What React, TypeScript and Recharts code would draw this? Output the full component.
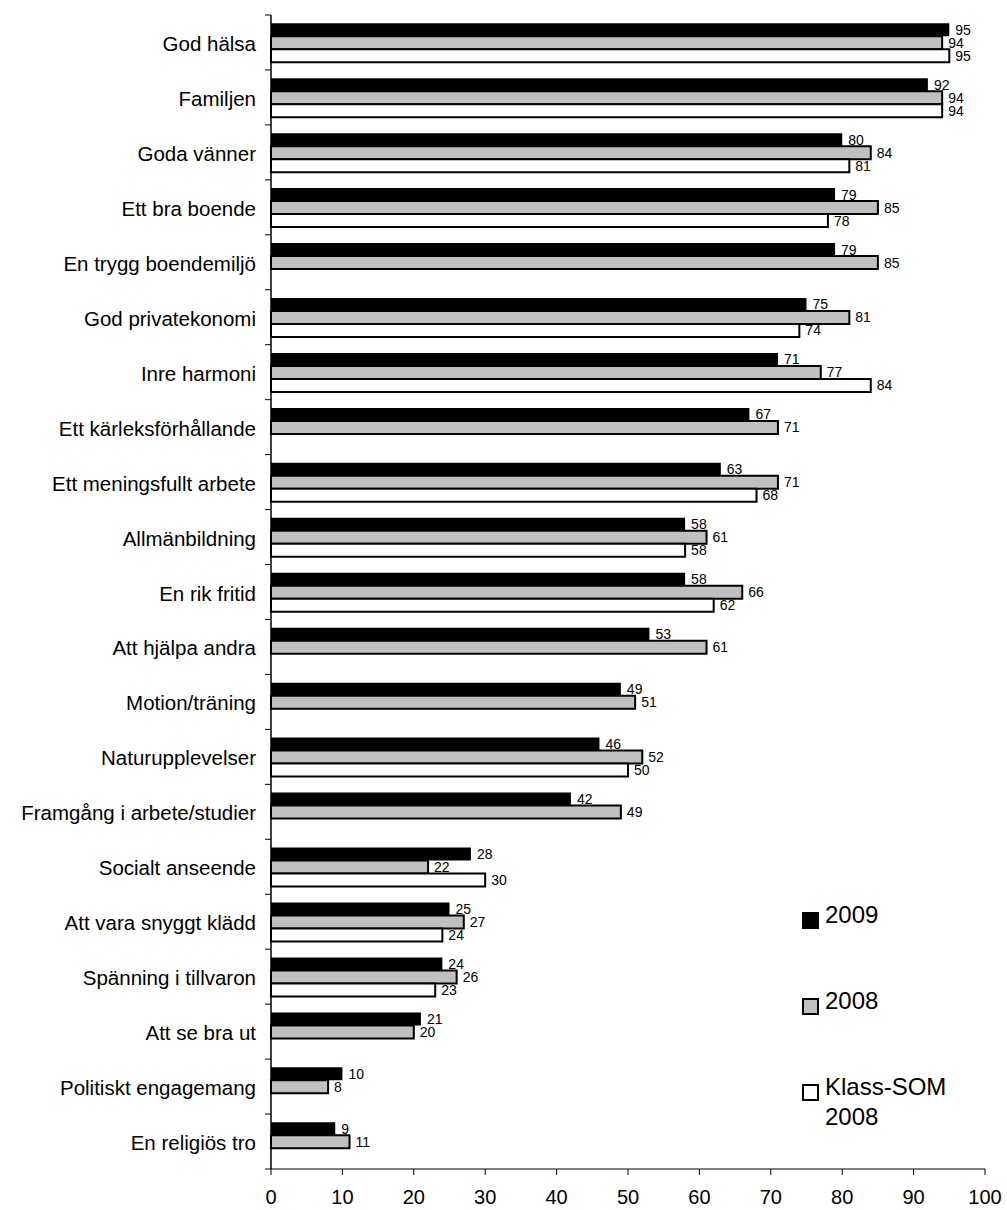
import { BarChart, Bar, XAxis, YAxis, LabelList } from 'recharts';

const categories = [
  'God hälsa',
  'Familjen',
  'Goda vänner',
  'Ett bra boende',
  'En trygg boendemiljö',
  'God privatekonomi',
  'Inre harmoni',
  'Ett kärleksförhållande',
  'Ett meningsfullt arbete',
  'Allmänbildning',
  'En rik fritid',
  'Att hjälpa andra',
  'Motion/träning',
  'Naturupplevelser',
  'Framgång i arbete/studier',
  'Socialt anseende',
  'Att vara snyggt klädd',
  'Spänning i tillvaron',
  'Att se bra ut',
  'Politiskt engagemang',
  'En religiös tro',
];

const values2009 = [95, 92, 80, 79, 79, 75, 71, 67, 63, 58, 58, 53, 49, 46, 42, 28, 25, 24, 21, 10, 9];
const values2008 = [94, 94, 84, 85, 85, 81, 77, 71, 71, 61, 66, 61, 51, 52, 49, 22, 27, 26, 20, 8, 11];
const valuesKlass = [95, 94, 81, 78, null, 74, 84, null, 68, 58, 62, null, null, 50, null, 30, 24, 23, null, null, null];

const xTicks = [0, 10, 20, 30, 40, 50, 60, 70, 80, 90, 100];

const data = categories.map((name, i) => ({
  name,
  y2009: values2009[i],
  y2008: values2008[i],
  klass: valuesKlass[i],
}));

const FONT = '"Liberation Sans", Arial, sans-serif';
const W = 1007;
const H = 1210;
const Y_AXIS_W = 271;
const TOP = 15;
const PLOT_BOTTOM = 1169;
const X_AXIS_H = H - PLOT_BOTTOM;
const BAND = (PLOT_BOTTOM - TOP) / categories.length;

// Excel-style ticks sit between categories, not on them
function CategoryTick(props: any) {
  const { x, y, payload, index } = props;
  const lx = x + 10;
  return (
    <g>
      <text x={x + 1} y={y + 1} textAnchor="end" dominantBaseline="central" fontSize={20.5} fontFamily={FONT} fill="#000">
        {payload.value}
      </text>
      <line x1={lx} x2={lx + 6} y1={y - BAND / 2} y2={y - BAND / 2} stroke="#000" />
      {index === categories.length - 1 && (
        <line x1={lx} x2={lx + 6} y1={y + BAND / 2} y2={y + BAND / 2} stroke="#000" />
      )}
    </g>
  );
}

function Swatch({ fill, border }: { fill: string; border: boolean }) {
  return (
    <span
      style={{
        display: 'inline-block',
        boxSizing: 'border-box',
        width: 17,
        height: 17,
        background: fill,
        border: border ? '2px solid #000' : 'none',
        marginRight: 6,
      }}
    />
  );
}

const legendItems = [
  { label: '2009', fill: '#000', border: false },
  { label: '2008', fill: '#c0c0c0', border: true },
  { label: 'Klass-SOM', sub: '2008', fill: '#fff', border: true },
];

function LegendBox() {
  return (
    <div style={{ position: 'absolute', left: 802, top: 900, fontFamily: FONT, color: '#000' }}>
      {legendItems.map((it) => (
        <div key={it.label} style={{ height: 86, display: 'flex', alignItems: 'flex-start', fontSize: 24, lineHeight: '30px' }}>
          <span style={{ marginTop: 6 }}>
            <Swatch fill={it.fill} border={it.border} />
          </span>
          <span>
            {it.label}
            {it.sub && <br />}
            {it.sub}
          </span>
        </div>
      ))}
    </div>
  );
}

export default function App() {
  const labelStyle = { fontSize: 14, fontFamily: FONT, fill: '#000' };
  return (
    <div style={{ position: 'relative', width: W, height: H, background: '#fff' }}>
      <style>{'body { margin: 0; } svg.recharts-surface { overflow: visible; }'}</style>
      <BarChart
        width={W}
        height={H}
        data={data}
        layout="vertical"
        margin={{ top: TOP, right: 22, bottom: 0, left: 0 }}
        barCategoryGap="15%"
        barGap={0}
      >
        <XAxis
          type="number"
          domain={[0, 100]}
          ticks={xTicks}
          interval={0}
          height={X_AXIS_H}
          stroke="#000"
          tickSize={6}
          tickMargin={15}
          tick={{ fontSize: 20, fontFamily: FONT, fill: '#000' }}
        />
        <YAxis
          type="category"
          dataKey="name"
          width={Y_AXIS_W}
          stroke="#000"
          strokeWidth={1.5}
          tickLine={false}
          tickSize={6}
          tickMargin={10}
          interval={0}
          tick={<CategoryTick />}
        />
        <Bar dataKey="y2009" name="2009" fill="#000" isAnimationActive={false}>
          <LabelList dataKey="y2009" position="right" offset={6} style={labelStyle} />
        </Bar>
        <Bar dataKey="y2008" name="2008" fill="#c0c0c0" stroke="#000" strokeWidth={2} isAnimationActive={false}>
          <LabelList dataKey="y2008" position="right" offset={6} style={labelStyle} />
        </Bar>
        <Bar dataKey="klass" name="Klass-SOM 2008" fill="#fff" stroke="#000" strokeWidth={2} isAnimationActive={false}>
          <LabelList dataKey="klass" position="right" offset={6} style={labelStyle} />
        </Bar>
      </BarChart>
      <LegendBox />
    </div>
  );
}
